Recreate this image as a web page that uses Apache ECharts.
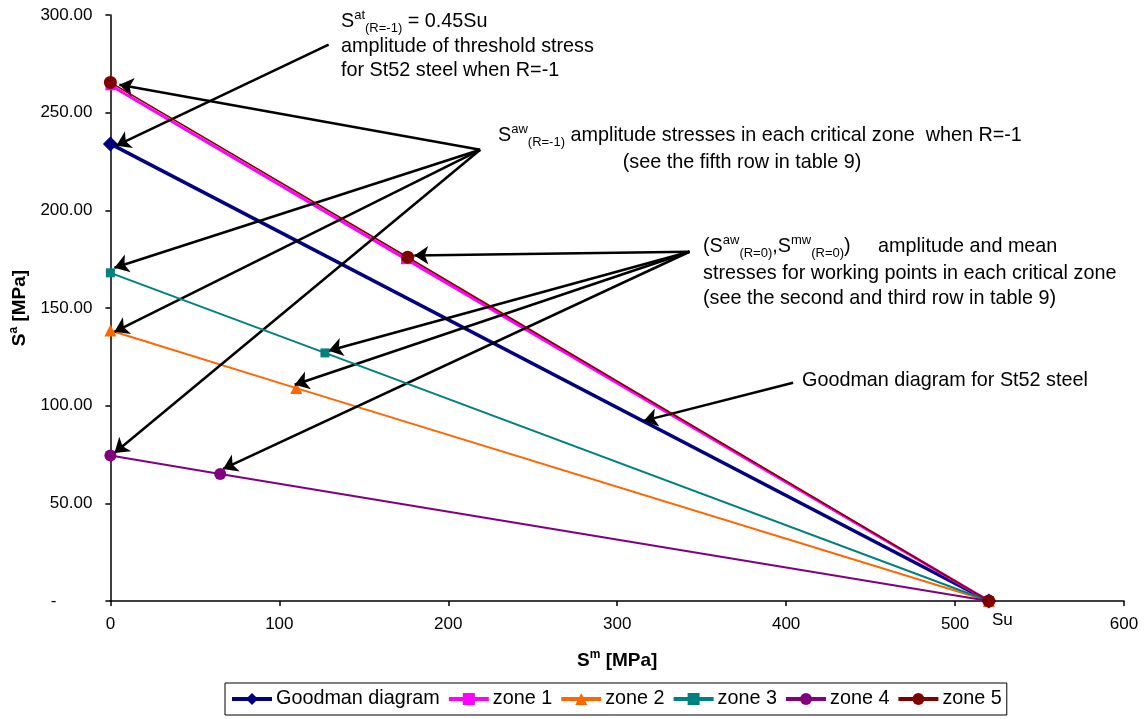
<!DOCTYPE html>
<html>
<head>
<meta charset="utf-8">
<script src="https://cdn.jsdelivr.net/npm/echarts@6/dist/echarts.min.js"></script>
<style>
  html, body { margin: 0; padding: 0; background: #fff; }
  #chart { width: 1146px; height: 719px; }
</style>
</head>
<body>
<div id="chart"></div>
<script>
// Goodman diagram for St52 steel and the working lines of each critical zone
const seriesNames = ['Goodman diagram', 'zone 1', 'zone 2', 'zone 3', 'zone 4', 'zone 5'];

// mean stress Sm [MPa] / amplitude stress Sa [MPa]
const goodmanSm = [0, 520];
const goodmanSa = [234, 0];
const zone1Sm = [0, 175, 520];
const zone1Sa = [264, 175, 0];
const zone2Sm = [0, 110, 520];
const zone2Sa = [138.5, 109, 0];
const zone3Sm = [0, 127, 520];
const zone3Sa = [168, 127, 0];
const zone4Sm = [0, 65, 520];
const zone4Sa = [74.5, 65, 0];
const zone5Sm = [0, 176, 520];
const zone5Sa = [265.5, 176, 0];

// annotation arrows: [from Sm, from Sa] -> [to Sm, to Sa]
const arrowFrom = [
  [129.2, 284.8],
  [218.9, 231.0], [218.9, 231.0], [218.9, 231.0], [218.9, 231.0],
  [342.8, 178.8], [342.8, 178.8], [342.8, 178.8], [342.8, 178.8],
  [404.1, 111.7]
];
const arrowTo = [
  [3.5, 233.1],
  [5.3, 264.3], [2.4, 170.6], [2.4, 137.8], [2.4, 75.8],
  [179.9, 176.9], [129.2, 128.1], [109.1, 110.7], [66.7, 67.6],
  [315.6, 92.2]
];

const FONT = '"Liberation Sans", Arial, Helvetica, sans-serif';

function pairs(xs, ys) { return xs.map((x, i) => [x, ys[i]]); }

const colors = ['#000080', '#FF00FF', '#FF6600', '#008080', '#800080', '#800000'];
const symbols = ['diamond', 'rect', 'triangle', 'rect', 'circle', 'circle'];
const symbolSizes = [15, 10, 12, 9, 12, 13];
const lineWidths = [3.5, 3, 2, 2, 2, 1.6];
const dataSets = [
  pairs(goodmanSm, goodmanSa), pairs(zone1Sm, zone1Sa), pairs(zone2Sm, zone2Sa),
  pairs(zone3Sm, zone3Sa), pairs(zone4Sm, zone4Sa), pairs(zone5Sm, zone5Sa)
];

const series = seriesNames.map((name, i) => ({
  name: name,
  type: 'line',
  data: dataSets[i],
  symbol: symbols[i],
  symbolSize: symbolSizes[i],
  showAllSymbol: true,
  itemStyle: { color: colors[i] },
  lineStyle: { color: colors[i], width: lineWidths[i] },
  emphasis: { disabled: true },
  z: 2 + i
}));

// black arrows pointing from the notes to the marks
series[5].markLine = {
  silent: true,
  animation: false,
  symbol: ['none', 'arrow'],
  symbolSize: 14,
  label: { show: false },
  lineStyle: { color: '#000', width: 2.5, type: 'solid' },
  itemStyle: { color: '#000' },
  emphasis: { disabled: true },
  data: arrowFrom.map((f, i) => [{ coord: f }, { coord: arrowTo[i] }])
};

const noteRich = {
  m: { fontSize: 19.8, fontFamily: FONT, color: '#000', lineHeight: 26 },
  sup: { fontSize: 13, fontFamily: FONT, color: '#000', lineHeight: 13, verticalAlign: 'top' },
  sub: { fontSize: 13, fontFamily: FONT, color: '#000', lineHeight: 13, verticalAlign: 'bottom' }
};

function note(x, y, text, align) {
  return {
    type: 'text', x: x, y: y, z: 100, silent: true,
    style: {
      text: text, rich: noteRich, fill: '#000',
      font: '19.8px ' + FONT,
      align: align || 'left', verticalAlign: 'middle'
    }
  };
}

const nameRich = {
  b: { fontSize: 19, fontWeight: 'bold', fontFamily: FONT, color: '#000', lineHeight: 24 },
  sup: { fontSize: 12, fontWeight: 'bold', fontFamily: FONT, color: '#000', lineHeight: 12, verticalAlign: 'top' }
};

const chart = echarts.init(document.getElementById('chart'), null, { renderer: 'canvas' });
chart.setOption({
  animation: false,
  backgroundColor: '#fff',
  textStyle: { fontFamily: FONT },
  grid: { left: 107, right: 22, top: 15, bottom: 118, containLabel: false },
  xAxis: {
    type: 'value', min: 0, max: 600, interval: 100,
    name: '{b|S}{sup|m}{b| [MPa]}',
    nameLocation: 'middle', nameGap: 48,
    nameTextStyle: { rich: nameRich },
    axisLine: { show: true, onZero: false, lineStyle: { color: '#000', width: 1.5 } },
    axisTick: { show: true, inside: false, length: 5, lineStyle: { color: '#000', width: 1.5 } },
    axisLabel: { color: '#000', fontSize: 17, fontFamily: FONT, margin: 15 },
    splitLine: { show: false }
  },
  yAxis: {
    type: 'value', min: 0, max: 300, interval: 50,
    name: '{b|S}{sup|a}{b| [MPa]}',
    nameLocation: 'middle', nameGap: 73,
    nameTextStyle: { rich: nameRich },
    axisLine: { show: true, onZero: false, lineStyle: { color: '#000', width: 1.5 } },
    axisTick: { show: true, inside: false, length: 5, lineStyle: { color: '#000', width: 1.5 } },
    axisLabel: {
      color: '#000', fontSize: 17, fontFamily: FONT, margin: 18,
      formatter: v => v === 0 ? '{dash|-}' : v.toFixed(2),
      rich: { dash: { fontSize: 17, fontFamily: FONT, color: '#000', padding: [0, 36, 0, 0] } }
    },
    splitLine: { show: false }
  },
  legend: {
    data: seriesNames,
    top: 683, left: 225,
    orient: 'horizontal',
    itemWidth: 40, itemHeight: 15, itemGap: 7,
    padding: [5, 5, 5, 5],
    borderColor: '#000', borderWidth: 1, borderRadius: 0,
    backgroundColor: '#fff',
    lineStyle: { width: 4 },
    textStyle: { color: '#000', fontSize: 19.8, fontFamily: FONT, padding: [0, 0, 0, -1], lineHeight: 22 },
    selectedMode: false
  },
  graphic: [
    note(341, 22, '{m|S}{sup|at}{sub|(R=-1)}{m| = 0.45Su}'),
    note(341, 47, 'amplitude of threshold stress'),
    note(341, 71, 'for St52 steel when R=-1'),
    note(498, 136, '{m|S}{sup|aw}{sub|(R=-1)}{m| amplitude stresses in each critical zone  when R=-1}'),
    note(742, 163, '(see the fifth row in table 9)', 'center'),
    note(703, 247, '{m|(S}{sup|aw}{sub|(R=0)}{m|,S}{sup|mw}{sub|(R=0)}{m|)     amplitude and mean}'),
    note(703, 274, 'stresses for working points in each critical zone'),
    note(703, 299, '(see the second and third row in table 9)'),
    note(802, 381, 'Goodman diagram for St52 steel'),
    {
      type: 'text', x: 992, y: 620, z: 100, silent: true,
      style: { text: 'Su', font: '17px ' + FONT, fill: '#000', verticalAlign: 'middle' }
    }
  ],
  series: series
});
</script>
</body>
</html>
